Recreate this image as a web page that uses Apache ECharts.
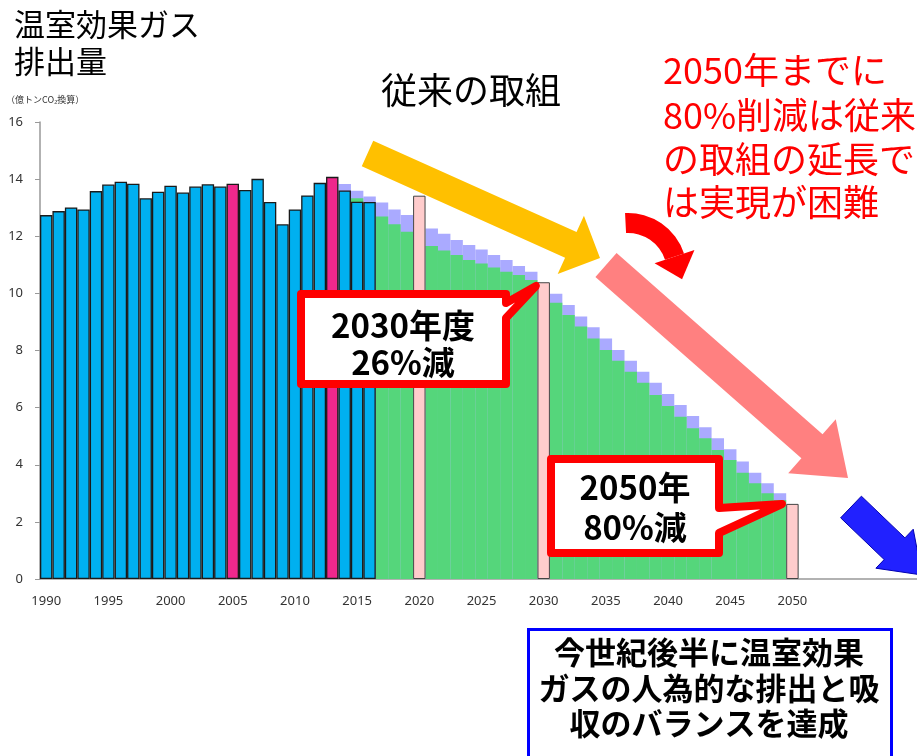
<!DOCTYPE html>
<html><head><meta charset="utf-8">
<script src="https://cdn.jsdelivr.net/npm/echarts@6/dist/echarts.min.js"></script>
<style>html,body{margin:0;padding:0;background:#fff}#c{width:917px;height:756px}</style>
</head><body><div id="c"></div>
<script>
// ---- data ----
const firstYear = 1990;
const lastYear = 2060;
const tickLabelYears = [1990,1995,2000,2005,2010,2015,2020,2025,2030,2035,2040,2045,2050];
const yTicks = [0,2,4,6,8,10,12,14,16];
// historical emissions 1990-2016 (億トンCO2換算)
const histYears = [1990,1991,1992,1993,1994,1995,1996,1997,1998,1999,2000,2001,2002,2003,2004,2005,2006,2007,2008,2009,2010,2011,2012,2013,2014,2015,2016];
const histValues = [12.74,12.88,13.01,12.94,13.58,13.81,13.91,13.84,13.33,13.56,13.77,13.53,13.74,13.82,13.74,13.84,13.62,14.01,13.20,12.42,12.94,13.43,13.87,14.08,13.60,13.21,13.20];
const baseYears = [2005, 2013];
// conventional-effort path (lavender) 2014-2049
const convYears = [2014,2015,2016,2017,2018,2019,2020,2021,2022,2023,2024,2025,2026,2027,2028,2029,2030,2031,2032,2033,2034,2035,2036,2037,2038,2039,2040,2041,2042,2043,2044,2045,2046,2047,2048,2049];
const convValues = [13.83,13.59,13.39,13.18,12.94,12.74,null,12.27,12.09,11.87,11.69,11.54,11.34,11.17,10.96,10.76,null,9.99,9.59,9.19,8.81,8.42,8.02,7.64,7.26,6.87,6.48,6.09,5.71,5.31,4.93,4.54,4.11,3.72,3.35,3.00];
// reduction path (green) 2015-2049
const pathYears = [2015,2016,2017,2018,2019,2020,2021,2022,2023,2024,2025,2026,2027,2028,2029,2030,2031,2032,2033,2034,2035,2036,2037,2038,2039,2040,2041,2042,2043,2044,2045,2046,2047,2048,2049];
const pathValues = [13.33,null,12.69,12.42,12.16,null,11.66,11.50,11.34,11.17,11.05,10.91,10.76,10.64,10.47,null,9.67,9.24,8.84,8.42,8.02,7.64,7.26,6.87,6.44,6.06,5.68,5.28,4.93,4.52,4.17,3.72,3.35,3.00,2.77];
// targets
const targetYears = [2020, 2030, 2050];
const targetValues = [13.42, 10.39, 2.63];

// ---- build ----
const cats = [];
for (let y = firstYear; y <= lastYear; y++) cats.push(String(y));
function place(years, values, itemFn) {
  const arr = cats.map(() => null);
  years.forEach((y, i) => {
    const v = values[i];
    if (v === null || v === undefined) return;
    arr[y - firstYear] = itemFn ? itemFn(y, v) : v;
  });
  return arr;
}

function arrowPts(sx, sy, tx, ty, sw, hw, hl) {
  const dx = tx - sx, dy = ty - sy, L = Math.hypot(dx, dy);
  const ux = dx / L, uy = dy / L, px = -uy, py = ux;
  const bx = tx - ux * hl, by = ty - uy * hl;
  return [[sx + px * sw, sy + py * sw], [bx + px * sw, by + py * sw], [bx + px * hw, by + py * hw], [tx, ty],
          [bx - px * hw, by - py * hw], [bx - px * sw, by - py * sw], [sx - px * sw, sy - py * sw]];
}

const JP = '"Noto Sans CJK JP", "Noto Sans", sans-serif';
function txt(text, x, y, size, opt) {
  opt = opt || {};
  return {
    type: 'text', z: 120,
    style: {
      text: text, x: x, y: y,
      font: (opt.bold ? 'bold ' : '') + size + 'px ' + JP,
      fill: opt.fill || '#000',
      textAlign: opt.align || 'left',
      textVerticalAlign: 'middle'
    }
  };
}

// curved red arrow
const cx = 628, cy = 272, r0 = 39, r1 = 59;
const endA = -0.32;
const midR = (r0 + r1) / 2;
const bxc = cx + midR * Math.cos(endA), byc = cy + midR * Math.sin(endA);
const tgx = -Math.sin(endA), tgy = Math.cos(endA);
const rdx = Math.cos(endA), rdy = Math.sin(endA);
const curvedHead = [[bxc + rdx * 21, byc + rdy * 21], [bxc + tgx * 24, byc + tgy * 24], [bxc - rdx * 21, byc - rdy * 21]];

const graphics = [
  txt('温室効果ガス', 14, 24, 31),
  txt('排出量', 14, 61, 31),
  txt('（億トンCO₂換算）', 6, 100, 9, {fill: '#333'}),
  txt('従来の取組', 471, 90, 36, {align: 'center'}),
  txt('2050年までに', 663, 70, 36, {fill: '#ff0000'}),
  txt('80%削減は従来', 663, 115, 36, {fill: '#ff0000'}),
  txt('の取組の延長で', 663, 159, 36, {fill: '#ff0000'}),
  txt('は実現が困難', 663, 202, 36, {fill: '#ff0000'}),
  // yellow arrow
  {type: 'polygon', z: 110, shape: {points: arrowPts(367.5, 153.5, 600, 258, 14, 32, 32)}, style: {fill: '#FFC000'}},
  // pink arrow
  {type: 'polygon', z: 110, shape: {points: arrowPts(606, 265, 848, 478, 16, 36, 48)}, style: {fill: '#FF8080'}},
  // blue arrow
  {type: 'polygon', z: 110, shape: {points: arrowPts(851, 507, 922, 575, 15, 27, 38)}, style: {fill: '#2121FF', stroke: '#0000B0', lineWidth: 1}},
  // red curved arrow
  {type: 'sector', z: 110, shape: {cx: cx, cy: cy, r0: r0, r: r1, startAngle: -Math.PI / 2 - 0.05, endAngle: endA, clockwise: true}, style: {fill: '#ff0000'}},
  {type: 'polygon', z: 110, shape: {points: curvedHead}, style: {fill: '#ff0000'}},
  // callout 2030
  {type: 'polygon', z: 115, shape: {points: [[301, 294], [506, 294], [506, 303], [536, 286], [506, 318], [506, 384], [301, 384]]},
   style: {fill: '#fff', stroke: '#ff0000', lineWidth: 8, lineJoin: 'round'}},
  txt('2030年度', 403, 325, 33, {bold: true, align: 'center'}),
  txt('26%減', 403, 362, 33, {bold: true, align: 'center'}),
  // callout 2050
  {type: 'polygon', z: 115, shape: {points: [[551, 459], [719, 459], [719, 508], [782, 504], [719, 533], [719, 553], [551, 553]]},
   style: {fill: '#fff', stroke: '#ff0000', lineWidth: 8, lineJoin: 'round'}},
  txt('2050年', 635, 487, 33, {bold: true, align: 'center'}),
  txt('80%減', 635, 527, 33, {bold: true, align: 'center'}),
  // blue box
  {type: 'rect', z: 115, shape: {x: 528.5, y: 629.5, width: 363, height: 140}, style: {fill: '#fff', stroke: '#0000ff', lineWidth: 3}},
  txt('今世紀後半に温室効果', 709, 652, 31, {bold: true, align: 'center'}),
  txt('ガスの人為的な排出と吸', 709, 688, 31, {bold: true, align: 'center'}),
  txt('収のバランスを達成', 709, 723, 31, {bold: true, align: 'center'})
];

const chart = echarts.init(document.getElementById('c'), null, {renderer: 'canvas'});
chart.setOption({
  animation: false,
  backgroundColor: '#fff',
  grid: {left: 40, right: -6, top: 122, bottom: 177, containLabel: false, outerBoundsMode: 'none'},
  xAxis: {
    type: 'category', data: cats, boundaryGap: true,
    axisLine: {lineStyle: {color: '#999', width: 1.5}},
    axisTick: {show: false},
    axisLabel: {
      interval: 0, margin: 16, color: '#333', fontSize: 13, fontFamily: '"Noto Sans", sans-serif',
      formatter: v => tickLabelYears.indexOf(+v) >= 0 ? v : ''
    }
  },
  yAxis: {
    type: 'value', min: yTicks[0], max: yTicks[yTicks.length - 1], interval: 2,
    axisLine: {show: true, lineStyle: {color: '#999', width: 1.5}},
    axisTick: {show: true, length: 5, lineStyle: {color: '#999'}},
    splitLine: {show: false},
    axisLabel: {margin: 17, color: '#333', fontSize: 13, fontFamily: '"Noto Sans", sans-serif'}
  },
  series: [
    {type: 'bar', name: 'conv', data: place(convYears, convValues), barGap: '-100%', barCategoryGap: '0%',
     itemStyle: {color: '#AAAAFF'}, z: 1},
    {type: 'bar', name: 'path', data: place(pathYears, pathValues), barGap: '-100%', barCategoryGap: '0%',
     itemStyle: {color: '#55D67B'}, z: 2},
    {type: 'bar', name: 'hist', barGap: '-100%', barCategoryGap: '0%', z: 3,
     data: place(histYears, histValues, (y, v) => ({value: v, itemStyle: {color: baseYears.indexOf(y) >= 0 ? '#F0288C' : '#00B0F0'}})),
     itemStyle: {borderColor: '#1a1a1a', borderWidth: 1.3}},
    {type: 'bar', name: 'target', data: place(targetYears, targetValues), barGap: '-100%', barCategoryGap: '0%', z: 4,
     itemStyle: {color: '#FFCCCC', borderColor: '#444', borderWidth: 1}}
  ],
  graphic: graphics
});
</script>
</body></html>
